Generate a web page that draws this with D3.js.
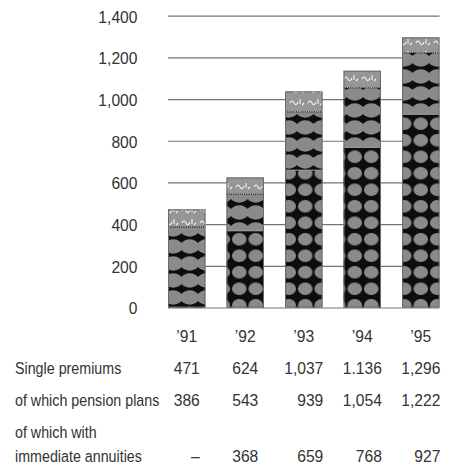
<!DOCTYPE html>
<html>
<head>
<meta charset="utf-8">
<script src="https://cdn.jsdelivr.net/npm/d3@7"></script>
<style>
  html, body { margin: 0; padding: 0; background: #fff; }
  svg { display: block; }
  text { font-family: "Liberation Sans", Arial, Helvetica, sans-serif; fill: #333; }
</style>
</head>
<body>
<svg id="chart" width="458" height="466"></svg>
<script>
// Single premiums by year (in millions)
const years = ["\u201991", "\u201992", "\u201993", "\u201994", "\u201995"];
const singlePremiums = [471, 624, 1037, 1136, 1296];
const pensionPlans = [386, 543, 939, 1054, 1222];
const immediateAnnuities = [null, 368, 659, 768, 927];

// Printed table figures
const singleLabels = ["471", "624", "1,037", "1.136", "1,296"];
const pensionLabels = ["386", "543", "939", "1,054", "1,222"];
const annuityLabels = ["\u2013", "368", "659", "768", "927"];
const rowLabels = [["Single premiums"], ["of which pension plans"], ["of which with", "immediate annuities"]];

const yTicks = [0, 200, 400, 600, 800, 1000, 1200, 1400];

const FONT = "17px";
const NARROW = 0.92;   // horizontal squeeze for figures
const NARROW_TXT = 0.84; // horizontal squeeze for row captions

const svg = d3.select("#chart");
const defs = svg.append("defs");

// Halftone fills
const BLOB = "#8a8a8a";
const pA = defs.append("pattern").attr("id", "pat-annuity")
  .attr("patternUnits", "userSpaceOnUse").attr("width", 16.5).attr("height", 16.5);
pA.append("rect").attr("width", 16.5).attr("height", 16.5).attr("fill", "#0d0d0d");
pA.append("ellipse").attr("cx", 8.25).attr("cy", 8.25).attr("rx", 7.3).attr("ry", 6.3).attr("fill", BLOB);

const pB = defs.append("pattern").attr("id", "pat-pension")
  .attr("patternUnits", "userSpaceOnUse").attr("width", 16.5).attr("height", 17);
pB.append("rect").attr("width", 16.5).attr("height", 17).attr("fill", "#0d0d0d");
pB.append("ellipse").attr("cx", 8.25).attr("cy", 8.5).attr("rx", 9.4).attr("ry", 7.2).attr("fill", BLOB);

const pC = defs.append("pattern").attr("id", "pat-single")
  .attr("patternUnits", "userSpaceOnUse").attr("width", 18).attr("height", 12);
pC.append("rect").attr("width", 18).attr("height", 12).attr("fill", "#969696");
pC.append("path").attr("d", "M2,7 q2,-4 4,0 t4,-1 M12,3 l0,5 M14,9 l2,-2")
  .attr("fill", "none").attr("stroke", "#f4f4f4").attr("stroke-width", 1.1);

// Scales
const x = d3.scaleBand().domain(years).range([168, 439.5]).paddingInner(0.36).paddingOuter(0);
const y = d3.scaleLinear().domain([0, 1400]).range([307.5, 15.7]);

// Gridlines
svg.append("g")
  .attr("transform", "translate(168,0)")
  .call(d3.axisLeft(y).tickValues(yTicks).tickSize(-(439.5 - 168)).tickFormat(""))
  .call(g => g.select(".domain").remove())
  .call(g => g.selectAll("line").attr("stroke", "#757575").attr("stroke-width", 1.2));

// Y tick labels
svg.append("g")
  .attr("transform", "translate(137.5,0)")
  .call(d3.axisLeft(y).tickValues(yTicks).tickSize(0).tickPadding(0).tickFormat(d3.format(",")))
  .call(g => g.select(".domain").remove())
  .call(g => g.selectAll("text").attr("dy", "0.38em").style("font-size", FONT)
    .attr("fill", "#333").attr("transform", `scale(${NARROW},1)`));

// Bars: annuities, rest of pension plans, rest of single premiums
const rows = years.map((yr, i) => ({
  yr, single: singlePremiums[i], pension: pensionPlans[i], annuity: immediateAnnuities[i]
}));

const bars = svg.append("g").selectAll("g").data(rows).join("g");

bars.filter(d => d.annuity != null).append("rect")
  .attr("x", d => x(d.yr)).attr("width", x.bandwidth())
  .attr("y", d => y(d.annuity)).attr("height", d => y(0) - y(d.annuity))
  .attr("fill", "url(#pat-annuity)");

bars.append("rect")
  .attr("x", d => x(d.yr)).attr("width", x.bandwidth())
  .attr("y", d => y(d.pension)).attr("height", d => y(d.annuity || 0) - y(d.pension))
  .attr("fill", "url(#pat-pension)");

bars.append("rect")
  .attr("x", d => x(d.yr)).attr("width", x.bandwidth())
  .attr("y", d => y(d.single)).attr("height", d => y(d.pension) - y(d.single))
  .attr("fill", "url(#pat-single)");

// Segment boundaries
bars.filter(d => d.annuity != null).append("line")
  .attr("x1", d => x(d.yr)).attr("x2", d => x(d.yr) + x.bandwidth())
  .attr("y1", d => y(d.annuity)).attr("y2", d => y(d.annuity))
  .attr("stroke", "#9a9a9a").attr("stroke-width", 1);

bars.append("line")
  .attr("x1", d => x(d.yr)).attr("x2", d => x(d.yr) + x.bandwidth())
  .attr("y1", d => y(d.pension)).attr("y2", d => y(d.pension))
  .attr("stroke", "#1a1a1a").attr("stroke-width", 1.3).attr("stroke-dasharray", "1,1.2");

bars.append("rect")
  .attr("x", d => x(d.yr) + 0.5).attr("width", x.bandwidth() - 1)
  .attr("y", d => y(d.single) + 0.5).attr("height", d => y(0) - y(d.single) - 1)
  .attr("fill", "none").attr("stroke", "#6a6a6a").attr("stroke-width", 1);

// Year labels
svg.append("g")
  .attr("transform", "translate(0,329.5)")
  .call(d3.axisBottom(x).tickSize(0).tickPadding(0))
  .call(g => g.select(".domain").remove())
  .call(g => g.selectAll("text").style("font-size", FONT).attr("fill", "#333")
    .attr("transform", `scale(${NARROW},1)`));

// Data table
const table = svg.append("g").style("font-size", FONT);
const tableRows = [
  { labels: rowLabels[0], values: singleLabels, base: 374 },
  { labels: rowLabels[1], values: pensionLabels, base: 406 },
  { labels: rowLabels[2], values: annuityLabels, base: 461.5 }
];

// Measure the widest figure in each column so the figures sit as a right-aligned block under each bar
const probe = table.append("text");
const colRight = years.map((yr, i) => {
  const w = NARROW * d3.max(tableRows, r => { probe.text(r.values[i]); return probe.node().getComputedTextLength(); });
  return x(yr) + x.bandwidth() / 2 + w / 2;
});
probe.remove();

tableRows.forEach(r => {
  r.labels.forEach((lab, k) => {
    const by = r.base - (r.labels.length - 1 - k) * 23.5;
    table.append("text")
      .attr("transform", `translate(15,${by}) scale(${NARROW_TXT},1)`)
      .text(lab);
  });
  table.selectAll(null).data(r.values).join("text")
    .attr("transform", (v, i) => `translate(${colRight[i]},${r.base}) scale(${NARROW},1)`)
    .attr("text-anchor", "end")
    .text(v => v);
});
</script>
</body>
</html>
